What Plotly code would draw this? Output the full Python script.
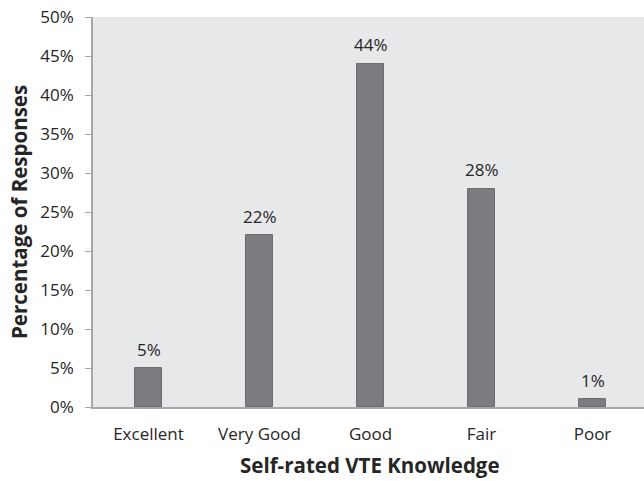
import plotly.graph_objects as go

categories = ["Excellent", "Very Good", "Good", "Fair", "Poor"]
percentages = [5, 22, 44, 28, 1]
y_ticks = [0, 5, 10, 15, 20, 25, 30, 35, 40, 45, 50]
y_tick_labels = [f"{v}%" for v in y_ticks]
x_title = "Self-rated VTE Knowledge"
y_title = "Percentage of Responses"

FONT = "'Open Sans', sans-serif"
TXT = "#262626"

xs = list(range(len(categories)))

fig = go.Figure(
    go.Bar(
        x=xs,
        y=percentages,
        width=0.25,
        marker=dict(color="#7b7c80", line=dict(color="#6c6d70", width=1)),
        cliponaxis=False,
    )
)

label_annotations = [
    dict(
        x=x, y=v, xref="x", yref="y",
        text=f"{v}%",
        showarrow=False,
        xanchor="center", yanchor="middle",
        yshift=19,
        font=dict(family=FONT, size=17, color=TXT),
    )
    for x, v in zip(xs, percentages)
]

fig.update_layout(
    width=644,
    height=481,
    margin=dict(l=93, r=0, t=17, b=74),
    paper_bgcolor="white",
    plot_bgcolor="#e7e8ea",
    showlegend=False,
    bargap=0,
    font=dict(family=FONT, size=17, color=TXT),
    xaxis=dict(
        range=[-0.5, 4.464],
        tickvals=xs,
        ticktext=categories,
        showgrid=False,
        zeroline=False,
        showline=True,
        linecolor="#a6a6a6",
        linewidth=1.5,
        ticks="",
        ticklabelstandoff=11,
        tickfont=dict(family=FONT, size=17, color=TXT),
    ),
    yaxis=dict(
        range=[0, 50],
        tickvals=y_ticks,
        ticktext=y_tick_labels,
        showgrid=False,
        zeroline=False,
        showline=True,
        linecolor="#a6a6a6",
        linewidth=1.5,
        ticks="outside",
        ticklen=6,
        tickcolor="#a6a6a6",
        ticklabelstandoff=8,
        tickfont=dict(family=FONT, size=17, color=TXT),
    ),
    annotations=label_annotations + [
        dict(
            text=f"<b>{x_title}</b>",
            xref="paper", yref="paper",
            x=(370 - 93) / 551, y=-(465 - 407) / 390,
            xanchor="center", yanchor="middle",
            showarrow=False,
            font=dict(family=FONT, size=20.5, color=TXT),
        ),
        dict(
            text=f"<b>{y_title}</b>",
            xref="paper", yref="paper",
            x=-(93 - 19) / 551, y=(407 - 212) / 390,
            xanchor="center", yanchor="middle",
            textangle=-90,
            showarrow=False,
            font=dict(family=FONT, size=20.5, color=TXT),
        ),
    ],
)

fig.write_html("out.html")
